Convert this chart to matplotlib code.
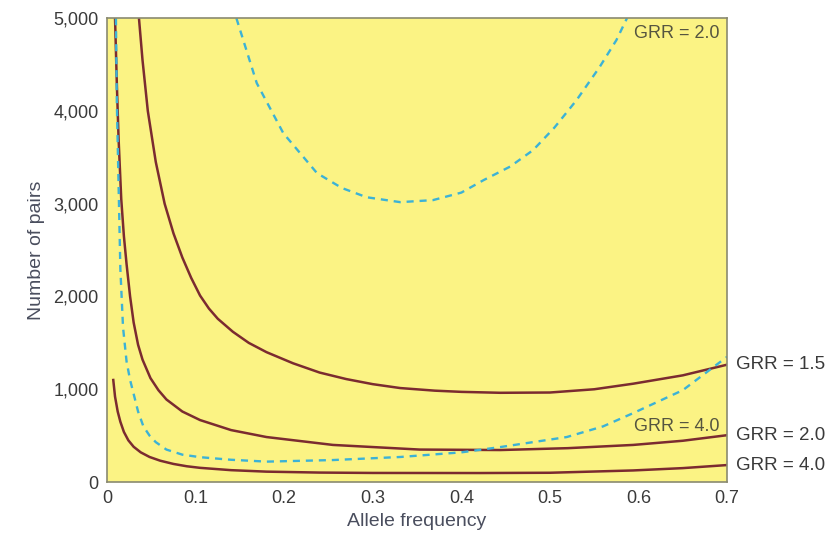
import matplotlib.pyplot as plt

plt.rcParams['font.family'] = ['Liberation Sans', 'DejaVu Sans']

# solid curves
grr15_x = [0.036, 0.040, 0.046, 0.055, 0.065, 0.075, 0.085, 0.095, 0.105, 0.115, 0.125, 0.142, 0.16, 0.18, 0.21, 0.24, 0.27, 0.30, 0.331, 0.37, 0.40, 0.444, 0.50, 0.55, 0.594, 0.65, 0.70]
grr15_y = [5000, 4550, 4000, 3450, 3000, 2680, 2420, 2200, 2010, 1870, 1760, 1620, 1500, 1400, 1280, 1180, 1110, 1055, 1013, 985, 972, 962, 965, 1000, 1060, 1150, 1265]

grr20_x = [0.009, 0.011, 0.013, 0.016, 0.019, 0.022, 0.026, 0.030, 0.035, 0.040, 0.049, 0.058, 0.067, 0.085, 0.105, 0.14, 0.18, 0.255, 0.353, 0.444, 0.52, 0.594, 0.65, 0.70]
grr20_y = [5000, 4300, 3700, 3050, 2650, 2350, 2000, 1720, 1480, 1320, 1120, 990, 890, 760, 668, 560, 485, 400, 350, 345, 365, 400, 445, 505]

grr40_x = [0.007, 0.009, 0.012, 0.015, 0.019, 0.024, 0.030, 0.038, 0.048, 0.060, 0.075, 0.09, 0.105, 0.14, 0.18, 0.24, 0.30, 0.42, 0.50, 0.594, 0.65, 0.70]
grr40_y = [1100, 920, 760, 650, 540, 450, 380, 320, 270, 230, 195, 170, 153, 128, 112, 102, 98, 97, 100, 125, 150, 183]

# dashed curves
d40_x = [0.010, 0.011, 0.013, 0.015, 0.018, 0.022, 0.026, 0.030, 0.035, 0.041, 0.048, 0.055, 0.067, 0.085, 0.105, 0.14, 0.18, 0.255, 0.331, 0.40, 0.444, 0.519, 0.56, 0.594, 0.65, 0.70]
d40_y = [5000, 4100, 3200, 2300, 1670, 1300, 1100, 950, 760, 600, 500, 430, 350, 295, 268, 240, 220, 237, 270, 320, 377, 485, 600, 743, 990, 1350]

d20_x = [0.146, 0.169, 0.199, 0.237, 0.265, 0.293, 0.331, 0.368, 0.40, 0.425, 0.455, 0.481, 0.505, 0.530, 0.556, 0.575, 0.587]
d20_y = [5000, 4300, 3760, 3330, 3170, 3070, 3017, 3039, 3120, 3254, 3400, 3578, 3820, 4116, 4472, 4763, 5000]

xticks = [0, 0.1, 0.2, 0.3, 0.4, 0.5, 0.6, 0.7]
yticks = [0, 1000, 2000, 3000, 4000, 5000]

solid = '#7b2b30'
dash = '#3cb2d6'
txt = '#3a3a3a'

fig = plt.figure(figsize=(8.3, 5.35), dpi=100)
ax = fig.add_axes([0.129, 0.099, 0.747, 0.867])
ax.set_facecolor('#fbf384')

ax.plot(grr15_x, grr15_y, color=solid, lw=1.8)
ax.plot(grr20_x, grr20_y, color=solid, lw=1.8)
ax.plot(grr40_x, grr40_y, color=solid, lw=1.8)
ax.plot(d40_x, d40_y, color=dash, lw=1.7, ls=(0, (3, 2.5)))
ax.plot(d20_x, d20_y, color=dash, lw=1.7, ls=(0, (3, 2.5)))

ax.set_xlim(0, 0.7)
ax.set_ylim(0, 5000)
ax.set_xticks(xticks)
ax.set_xticklabels(['0', '0.1', '0.2', '0.3', '0.4', '0.5', '0.6', '0.7'])
ax.set_yticks(yticks)
ax.set_yticklabels(['{:,}'.format(v) for v in yticks])
ax.tick_params(length=0, labelsize=13, colors=txt, pad=6)
for s in ax.spines.values():
    s.set_color('#8a8a70')
    s.set_linewidth(1.2)

ax.set_xlabel('Allele frequency', fontsize=14, color='#4a4e5e', labelpad=4)
ax.set_ylabel('Number of pairs', fontsize=14, color='#4a4e5e', labelpad=6)

# curve labels
ax.text(0.691, 4830, 'GRR = 2.0', fontsize=13, color='#555540', ha='right', va='center')
ax.text(0.691, 600, 'GRR = 4.0', fontsize=13, color='#555540', ha='right', va='center')
ax.text(0.710, 1265, 'GRR = 1.5', fontsize=13.5, color=txt, va='center', clip_on=False)
ax.text(0.710, 505, 'GRR = 2.0', fontsize=13.5, color=txt, va='center', clip_on=False)
ax.text(0.710, 183, 'GRR = 4.0', fontsize=13.5, color=txt, va='center', clip_on=False)

fig.savefig('out.png', dpi=100)
